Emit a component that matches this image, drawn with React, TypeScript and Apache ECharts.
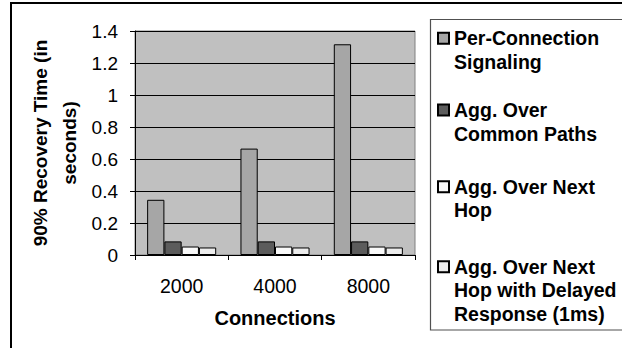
import React, { useEffect, useRef } from "react";
import * as echarts from "echarts";

const categories = ["2000", "4000", "8000"];
const seriesNames = [
  "Per-Connection\nSignaling",
  "Agg. Over\nCommon Paths",
  "Agg. Over Next\nHop",
  "Agg. Over Next\nHop with Delayed\nResponse (1ms)",
];
const perConnection = [0.345, 0.665, 1.317];
const aggCommonPaths = [0.085, 0.085, 0.085];
const aggNextHop = [0.053, 0.053, 0.053];
const aggNextHopDelayed = [0.047, 0.047, 0.047];
const seriesColors = ["#a6a6a6", "#5c5c5c", "#f9f9f9", "#ececec"];
const legendFirstLineY = [38.3, 110, 186.7, 266.7];

const FONT = "'Liberation Sans', Arial, sans-serif";
const LH = 23.5;

export default function App() {
  const ref = useRef<HTMLDivElement>(null);
  useEffect(() => {
    if (!ref.current) return;
    const chart = echarts.init(ref.current, undefined, { renderer: "svg" });
    const values = [perConnection, aggCommonPaths, aggNextHop, aggNextHopDelayed];
    const legends = seriesNames.map((name, i) => {
      const n = name.split("\n").length;
      return {
        data: [name],
        orient: "vertical" as const,
        left: 437,
        top: legendFirstLineY[i] - ((2 * n - 1) * LH) / 2,
        padding: 0,
        itemWidth: 11,
        itemHeight: 11,
        icon: "rect",
        selectedMode: false,
        formatter: (nm: string) => "\n".repeat(n - 1) + nm,
        textStyle: {
          fontFamily: FONT,
          fontSize: 19.5,
          fontWeight: "bold" as const,
          color: "#000",
          lineHeight: LH,
        },
      };
    });
    chart.setOption({
      animation: false,
      backgroundColor: "#fff",
      textStyle: { fontFamily: FONT },
      graphic: [
        {
          type: "rect",
          z: -10,
          shape: { x: 11, y: 3, width: 700, height: 400 },
          style: { fill: "none", stroke: "#000", lineWidth: 2 },
        },
        {
          type: "rect",
          z: -10,
          shape: { x: 430.5, y: 19.5, width: 300, height: 310.5 },
          style: { fill: "none", stroke: "#505050", lineWidth: 1.2 },
        },
      ],
      legend: legends,
      grid: {
        left: 135,
        top: 31,
        width: 280,
        height: 224,
        show: true,
        backgroundColor: "#c0c0c0",
        borderColor: "#808080",
        borderWidth: 1,
      },
      xAxis: {
        type: "category",
        data: categories,
        axisLine: { show: true, lineStyle: { color: "#000", width: 1 } },
        axisTick: { show: true, length: 5, lineStyle: { color: "#000" } },
        axisLabel: { fontSize: 19.5, color: "#000", margin: 21, fontFamily: FONT },
        name: "Connections",
        nameLocation: "middle",
        nameGap: 53,
        nameTextStyle: { fontSize: 20, fontWeight: "bold", color: "#000", fontFamily: FONT },
      },
      yAxis: {
        type: "value",
        min: 0,
        max: 1.4,
        interval: 0.2,
        axisLine: { show: true, lineStyle: { color: "#000", width: 1 } },
        axisTick: { show: true, length: 5, lineStyle: { color: "#000" } },
        axisLabel: { fontSize: 19, color: "#000", margin: 17, fontFamily: FONT },
        splitLine: { show: true, lineStyle: { color: "#000", width: 1 } },
        name: "90% Recovery Time (in\nseconds)",
        nameLocation: "middle",
        nameGap: 51,
        nameTextStyle: {
          fontSize: 19,
          fontWeight: "bold",
          color: "#000",
          fontFamily: FONT,
          lineHeight: 29,
        },
      },
      series: seriesNames.map((name, i) => ({
        type: "bar",
        name,
        data: values[i],
        barGap: "0%",
        barCategoryGap: "26%",
        itemStyle: { color: seriesColors[i], borderColor: "#000", borderWidth: 1 },
      })),
    });
    return () => chart.dispose();
  }, []);
  return (
    <div
      ref={ref}
      style={{ position: "fixed", left: 0, top: 0, width: 622, height: 348 }}
    />
  );
}
